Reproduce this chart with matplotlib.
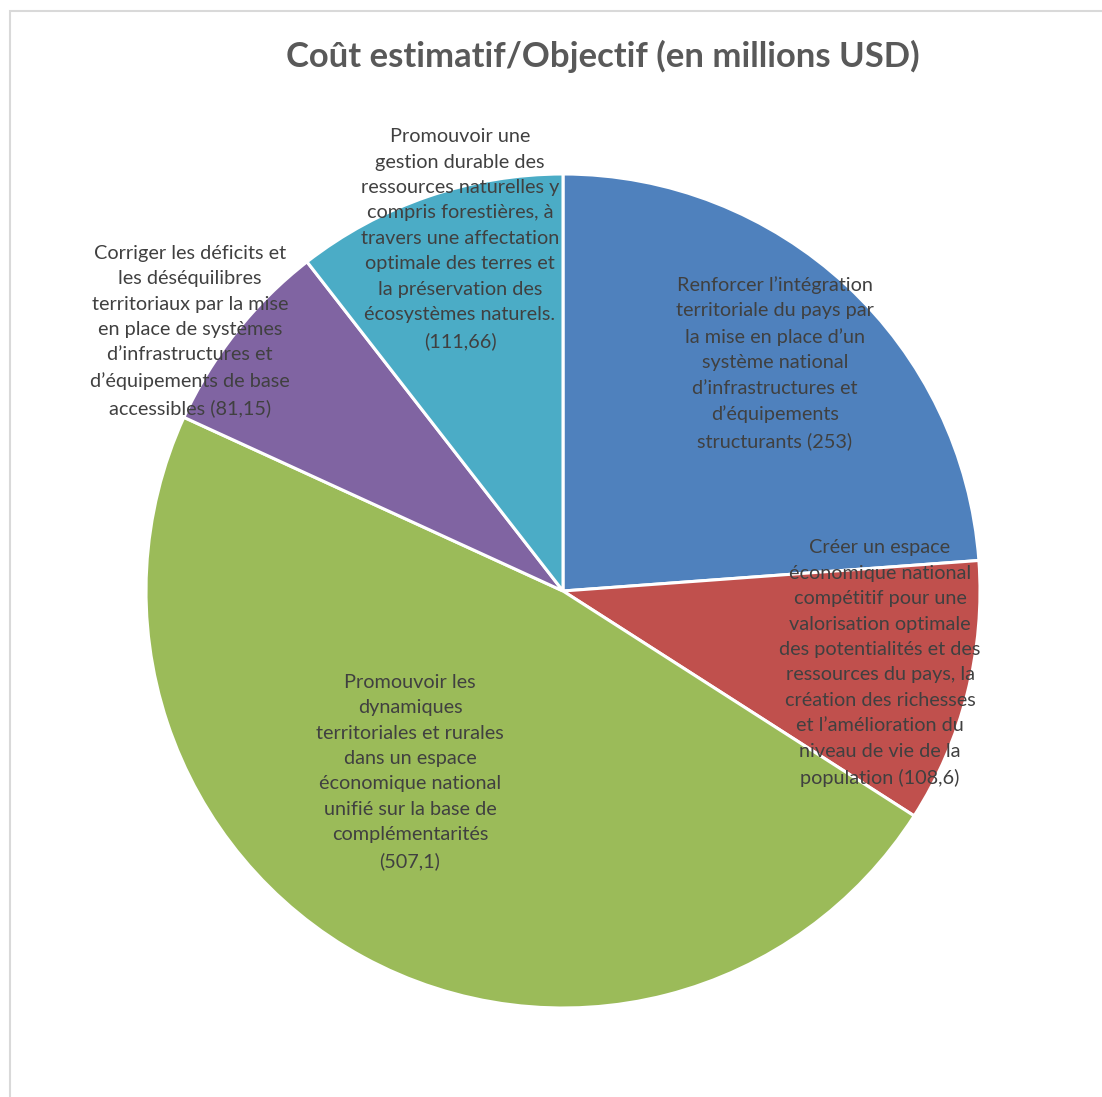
import matplotlib
matplotlib.use("Agg")
import matplotlib.pyplot as plt
from matplotlib.patches import Rectangle

# ---- data ----
categories = [
    "Renforcer l’intégration\nterritoriale du pays par\nla mise en place d’un\nsystème national\nd’infrastructures et\nd’équipements\nstructurants",
    "Créer un espace\néconomique national\ncompétitif pour une\nvalorisation optimale\ndes potentialités et des\nressources du pays, la\ncréation des richesses\net l’amélioration du\nniveau de vie de la\npopulation",
    "Promouvoir les\ndynamiques\nterritoriales et rurales\ndans un espace\néconomique national\nunifié sur la base de\ncomplémentarités",
    "Corriger les déficits et\nles déséquilibres\nterritoriaux par la mise\nen place de systèmes\nd’infrastructures et\nd’équipements de base\naccessibles",
    "Promouvoir une\ngestion durable des\nressources naturelles y\ncompris forestières, à\ntravers une affectation\noptimale des terres et\nla préservation des\nécosystèmes naturels.",
]
values = [253, 108.6, 507.1, 81.15, 111.66]
value_labels = ["253", "108,6", "507,1", "81,15", "111,66"]
title = "Coût estimatif/Objectif (en millions USD)"

# ---- style / layout ----
colors = ["#4F81BD", "#C0504D", "#9BBB59", "#8064A2", "#4BACC6"]
separators = [" ", " ", "\n", " ", "\n"]
label_pos = [(775, 363), (880, 663), (410, 772), (190, 331), (460, 239)]  # pixel (x, y from top)

W, H = 1102, 1097
fig = plt.figure(figsize=(W / 100, H / 100), dpi=100)
ax = fig.add_axes([0, 0, 1, 1])

# outer frame
fig.patches.append(Rectangle((10 / W, -0.1), 1.2, 1 - 11 / H + 0.1,
                             transform=fig.transFigure, fill=False,
                             edgecolor="#D9D9D9", linewidth=1.5))

cx, cy, r = 563, 591, 417
ax.pie(values, colors=colors, startangle=90, counterclock=False,
       center=(cx, H - cy), radius=r, frame=True,
       wedgeprops=dict(edgecolor="white", linewidth=2.2))
ax.set_xlim(0, W)
ax.set_ylim(0, H)
ax.set_aspect("auto")
ax.axis("off")

font = "Lato"
for cat, sep, val, (x, y) in zip(categories, separators, value_labels, label_pos):
    ax.text(x, H - y, f"{cat}{sep}({val})", ha="center", va="center",
            fontsize=14.3, color="#404040", family=font, linespacing=1.6)

ax.text(603, H - 56, title, ha="center", va="center", fontsize=24.9,
        fontweight="bold", color="#595959", family=font)

fig.savefig("out.png", dpi=100)
